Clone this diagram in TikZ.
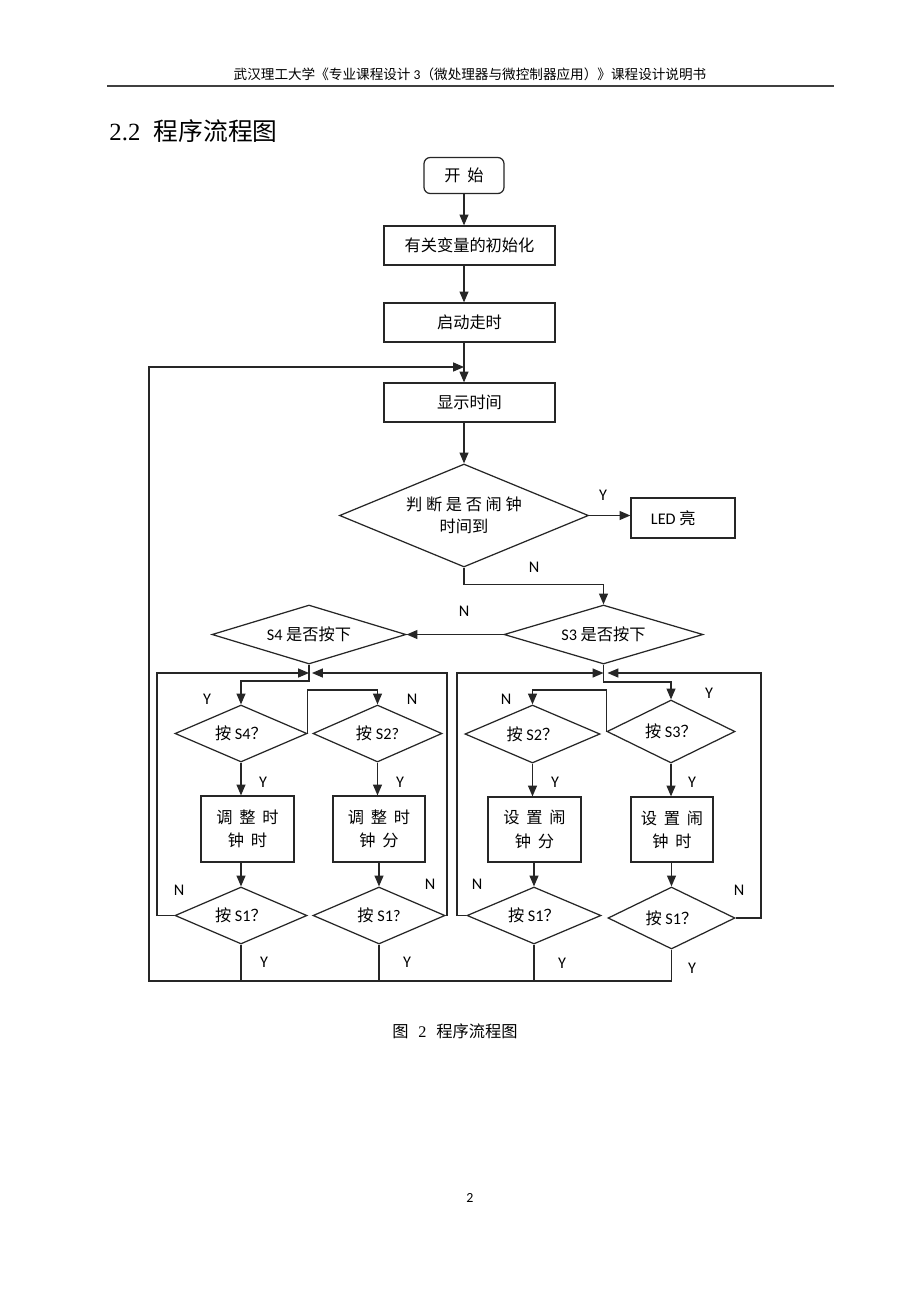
\documentclass[tikz,border=0pt]{standalone}
\usepackage{fontspec}
\setmainfont{Carlito}
\newfontfamily\cjk{Noto Sans CJK SC}
\newfontfamily\serif{Liberation Serif}
\usetikzlibrary{shapes.geometric,arrows.meta}
\newcommand\gap{\hspace{0.42em}}
\begin{document}
\begin{tikzpicture}[x=0.6467pt,y=-0.6467pt,
  every node/.style={font=\fontsize{10.5}{15}\selectfont\cjk},
  ln/.style={line width=0.8pt, draw=black!85},
  arr/.style={ln,-{Triangle[length=7pt,width=5.8pt]}},
  rbox/.style n args={2}{draw=black!85, line width=0.8pt, rectangle, inner sep=0pt,
     minimum width=#1*0.6467pt, minimum height=#2*0.6467pt, align=center},
  dia/.style n args={3}{draw=black!85, line width=0.8pt, diamond, inner sep=0pt, aspect=#3,
     minimum width=#1*0.6467pt, minimum height=#2*0.6467pt, align=center},
  lab/.style={font=\fontsize{10.5}{12}\selectfont\rmfamily}
]
\path[use as bounding box, fill=white] (0,0) rectangle (920,1302);

% header
\node[font=\fontsize{8.8}{11}\selectfont\cjk] (hdr) at (470,74)
  {武汉理工大学《专业课程设计 {\rmfamily 3}（微处理器与微控制器应用）》课程设计说明书};
\coordinate (hl) at (107,86);
\coordinate (hr) at (834,86);
\draw[line width=1.1pt, black!75] (hl) -- (hr);
\node[anchor=west, font=\fontsize{16}{19}\selectfont\serif] (ttl) at (104,131)
  {2.2\hspace{0.55em}{\cjk 程序流程图}};

% main column
\node[rbox={80}{36}, rounded corners=4pt] (start) at (464,175.5) {开\gap 始};
\node[rbox={171}{39}] (init) at (469.5,245.5) {有关变量的初始化};
\node[rbox={171}{39}] (run) at (469.5,322.5) {启动走时};
\node[rbox={171}{39}] (disp) at (469.5,402.5) {显示时间};
\node[dia={249}{103}{2.42}, font=\fontsize{10.5}{14}\selectfont\cjk] (dec) at (464,515.5) {判 断 是 否 闹 钟\\时间到};
\node[rbox={104}{40}] (led) at (683,518) {{\rmfamily LED} 亮\hspace{1.2em}};
\node[dia={199}{59}{3.37}] (s3) at (603.5,634.5) {{\rmfamily S3} 是否按下};
\node[dia={194}{59}{3.29}] (s4) at (309,634.5) {{\rmfamily S4} 是否按下};

% left group
\node[dia={132}{57}{2.32}] (k4) at (241,733.5) {按 {\rmfamily S4}？};
\node[dia={129}{57}{2.26}] (k2a) at (377.5,733.5) {按 {\rmfamily S2?}};
\node[rbox={93}{66}] (b1) at (247.5,829) {调\gap 整\gap 时\\钟\gap 时};
\node[rbox={92}{66}] (b2) at (379,829) {调\gap 整\gap 时\\钟\gap 分};
\node[dia={132}{57}{2.32}] (s1a) at (241,915.5) {按 {\rmfamily S1}？};
\node[dia={132}{57}{2.32}] (s1b) at (379,915.5) {按 {\rmfamily S1?}};

% right group
\node[dia={135}{58}{2.33}] (k2b) at (532.5,734) {按 {\rmfamily S2}？};
\node[dia={128}{63}{2.03}] (k3) at (671,731.5) {按 {\rmfamily S3}？};
\node[rbox={93}{65}] (b3) at (534.5,829.5) {设\gap 置\gap 闹\\钟\gap 分};
\node[rbox={82}{65}] (b4) at (672,829.5) {设\gap 置\gap 闹\\钟\gap 时};
\node[dia={134}{57}{2.35}] (s1c) at (534,915.5) {按 {\rmfamily S1}？};
\node[dia={127}{62}{2.05}] (s1d) at (671.5,918) {按 {\rmfamily S1}？};

% helper coordinates
\coordinate (jn) at (464,367);
\coordinate (loopL) at (149,367);
\coordinate (bot) at (149,981);
\coordinate (c1) at (309,673);
\coordinate (c1r) at (312,673);
\coordinate (c2) at (603.5,673);
\coordinate (c2r) at (607.5,673);
\coordinate (gl1) at (157,673);
\coordinate (gr1) at (447,673);
\coordinate (gl2) at (457,673);
\coordinate (gr2) at (761,673);

% main connectors
\draw[arr] (start.south) -- (start.south |- init.north);
\draw[arr] (init.south -| start.south) -- (start.south |- run.north);
\draw[arr] (run.south -| start.south) -- (start.south |- disp.north);
\draw[arr] (disp.south -| start.south) -- (dec.north);
\draw[arr] (dec.east) -- (led.west |- dec.east);
\draw[arr] (dec.south) -- ++(0,17) -| (s3.north);
\draw[arr] (s3.west) -- (s4.east);

% left group connectors
\draw[ln] (s4.south) -- (c1);
\draw[arr] (c1) -- ++(0,8) -| (k4.north);
\draw[arr] (k4.east) |- (k2a.north |- 0,690) -- (k2a.north);
\draw[arr] (k4.south) -- (k4.south |- b1.north);
\draw[arr] (k2a.south) -- (k2a.south |- b2.north);
\draw[arr] (s1a.north |- b1.south) -- (s1a.north);
\draw[arr] (s1b.north |- b2.south) -- (s1b.north);
\draw[arr] (s1a.west) -| (gl1) -- (c1);
\draw[arr] (s1b.east) -| (gr1) -- (c1r);
\draw[ln] (s1a.south) -- (s1a.south |- bot);
\draw[ln] (s1b.south) -- (s1b.south |- bot);

% right group connectors
\draw[ln] (s3.south) -- (c2);
\draw[arr] (c2) -- ++(0,9) -| (k3.north);
\draw[arr] (k3.west) |- (k2b.north |- 0,690) -- (k2b.north);
\draw[arr] (k2b.south) -- (k2b.south |- b3.north);
\draw[arr] (k3.south) -- (k3.south |- b4.north);
\draw[arr] (s1c.north |- b3.south) -- (s1c.north);
\draw[arr] (s1d.north |- b4.south) -- (s1d.north);
\draw[arr] (s1c.west) -| (gl2) -- (c2);
\draw[arr] (s1d.east) -| (gr2) -- (c2r);
\draw[ln] (s1c.south) -- (s1c.south |- bot);
\draw[arr] (s1d.south) |- (bot) -- (loopL) -- (jn);

% labels
\node[lab] (l1) at (603,495) {Y};
\node[lab] (l2) at (534,567) {N};
\node[lab] (l3) at (464,611) {N};
\node[lab] (l4) at (207,699) {Y};
\node[lab] (l5) at (412,699) {N};
\node[lab] (l6) at (263,782) {Y};
\node[lab] (l7) at (400,782) {Y};
\node[lab] (l8) at (179,890) {N};
\node[lab] (l9) at (430,884) {N};
\node[lab] (l10) at (264,962) {Y};
\node[lab] (l11) at (407,962) {Y};
\node[lab] (l12) at (506,699) {N};
\node[lab] (l13) at (709,693) {Y};
\node[lab] (l14) at (555,782) {Y};
\node[lab] (l15) at (692,782) {Y};
\node[lab] (l16) at (477,884) {N};
\node[lab] (l17) at (739,890) {N};
\node[lab] (l18) at (562,963) {Y};
\node[lab] (l19) at (692,968) {Y};

% caption and page number
\node (cap) at (455,1031) {图\hspace{0.6em}{\serif 2}\hspace{0.6em}程序流程图};
\node[font=\fontsize{9}{11}\selectfont\rmfamily] (pg) at (470,1198) {2};
\end{tikzpicture}
\end{document}
